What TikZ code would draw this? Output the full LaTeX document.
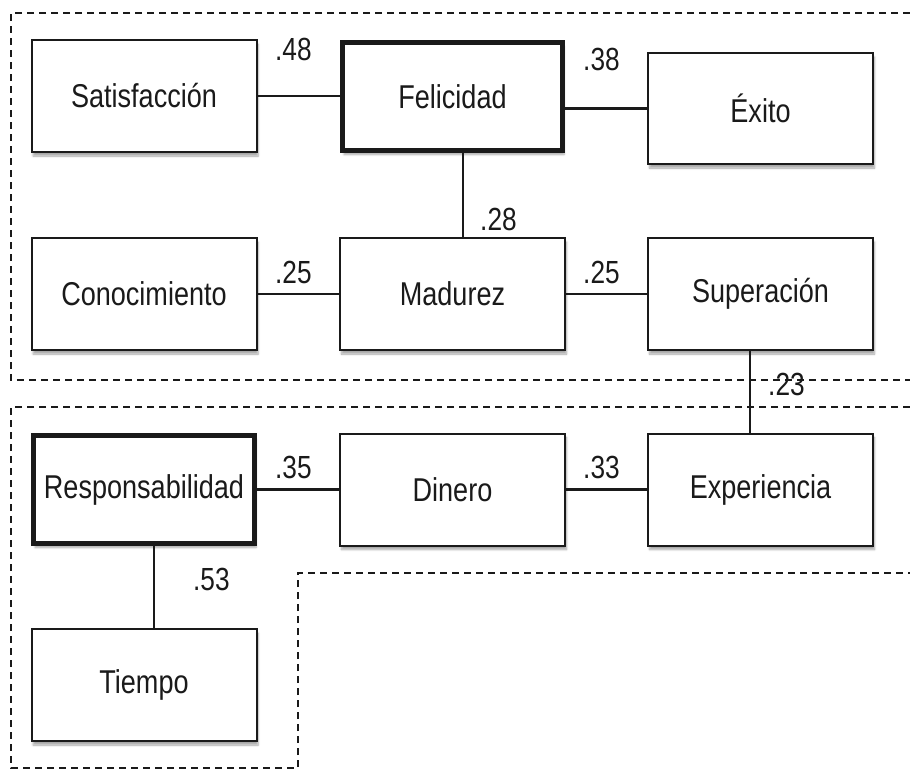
\documentclass[tikz,border=0pt]{standalone}
\usepackage{fontspec}
\setmainfont{Liberation Sans}[FakeStretch=0.82]
\usetikzlibrary{shadows.blur}
\definecolor{ink}{HTML}{1A1A1A}
\tikzset{
  box/.style={draw=ink, line width=2pt, fill=white, minimum width=225pt, minimum height=112pt,
    inner sep=0pt, text=ink, font=\fontsize{33}{38}\selectfont,
    blur shadow={shadow xshift=1.5pt, shadow yshift=-4pt, shadow blur steps=6, shadow opacity=35}},
  keybox/.style={box, line width=5pt},
  link/.style={draw=ink, line width=2.6pt},
  coef/.style={anchor=base west, inner sep=0pt, text=ink, font=\fontsize{32}{36}\selectfont},
  region/.style={draw=ink, line width=2pt, dash pattern=on 7pt off 5pt}
}
\begin{document}
\begin{tikzpicture}[x=1pt,y=-1pt]
\useasboundingbox (0,0) rectangle (910,772);
% regions
\draw[region] (910,13) -- (11,13) -- (11,380) -- (910,380);
\draw[region] (910,407) -- (11,407) -- (11,768) -- (298,768) -- (298,573) -- (910,573);
% boxes
\node[box]    (sat) at (144,96)     {Satisfacción};
\node[keybox, minimum width=220pt, minimum height=108pt] (fel) at (452.5,96.5) {Felicidad};
\node[box, minimum height=111pt] (exi) at (760.5,108.5) {Éxito};
\node[box]    (con) at (144,294)    {Conocimiento};
\node[box]    (mad) at (452.5,294)  {Madurez};
\node[box]    (sup) at (760.5,294)  {Superación};
\node[keybox, minimum width=221pt, minimum height=108pt] (res) at (144,489.5) {Responsabilidad};
\node[box]    (din) at (452.5,489.5) {Dinero};
\node[box]    (exp) at (760.5,489.5) {Experiencia};
\node[box]    (tie) at (144,685)    {Tiempo};
% connectors
\draw[link] (sat.east) -- (sat.east -| fel.west);
\draw[link] (fel.east |- exi.west) -- (exi.west);
\draw[link] (fel.south -| mad.north) ++(10.5,0) coordinate (fm) -- (fm |- mad.north);
\draw[link] (con.east) -- (mad.west);
\draw[link] (mad.east) -- (sup.west);
\draw[link] ([xshift=-10.5pt]sup.south) -- ([xshift=-10.5pt]exp.north);
\draw[link] (res.east) -- (din.west);
\draw[link] (din.east) -- (exp.west);
\draw[link] ([xshift=10pt]res.south) -- ([xshift=10pt]tie.north);
% coefficients
\node[coef] (c1) at (275,60)  {.48};
\node[coef] (c2) at (583,70)  {.38};
\node[coef] (c3) at (480,230) {.28};
\node[coef] (c4) at (275,283) {.25};
\node[coef] (c5) at (583,283) {.25};
\node[coef] (c6) at (768,395) {.23};
\node[coef] (c7) at (275,478) {.35};
\node[coef] (c8) at (583,478) {.33};
\node[coef] (c9) at (193,590) {.53};
\end{tikzpicture}
\end{document}
